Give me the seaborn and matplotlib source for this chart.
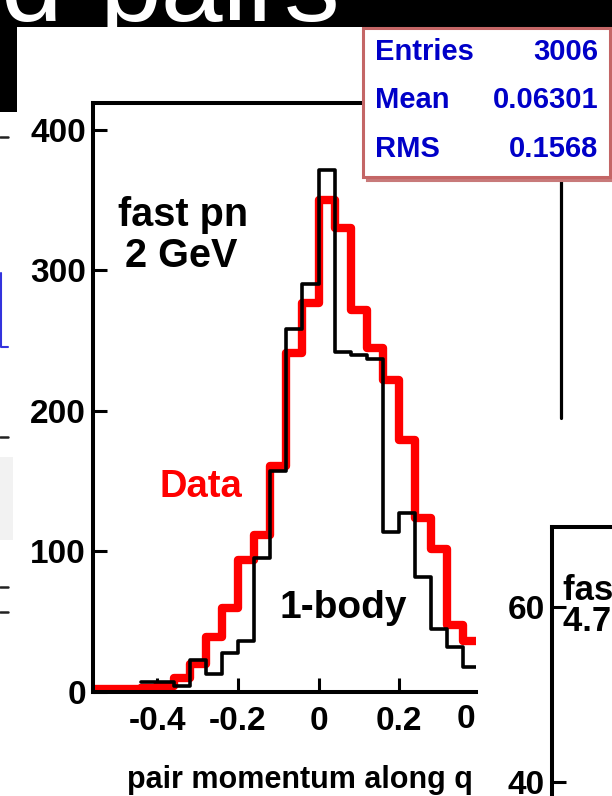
import numpy as np
import pandas as pd
import matplotlib
matplotlib.use("Agg")
import matplotlib.pyplot as plt
import seaborn as sns
from matplotlib.patches import Rectangle
from matplotlib.lines import Line2D
from matplotlib.transforms import Bbox, TransformedBbox, blended_transform_factory

# ---------------- data ----------------
data_edges = [-0.56, -0.52, -0.48, -0.44, -0.40, -0.36, -0.32, -0.28, -0.24, -0.20,
              -0.16, -0.12, -0.08, -0.04, 0.00, 0.04, 0.08, 0.12, 0.16, 0.20,
              0.24, 0.28, 0.32, 0.36, 0.40]
data_counts = [2, 2, 2, 3, 4, 10, 20, 39, 60, 94,
               112, 161, 241, 277, 350, 330, 272, 245, 222, 179,
               124, 102, 48, 36]

body_edges = [-0.44, -0.40, -0.36, -0.32, -0.28, -0.24, -0.20,
              -0.16, -0.12, -0.08, -0.04, 0.00, 0.04, 0.08, 0.12, 0.16, 0.20,
              0.24, 0.28, 0.32, 0.36, 0.40]
body_counts = [7, 7, 4, 23, 13, 28, 36,
               95, 157, 258, 290, 371, 242, 240, 237, 114, 127,
               82, 45, 32, 18]

x_ticks = [-0.4, -0.2, 0.0, 0.2]
x_tick_labels = ["-0.4", "-0.2", "0", "0.2"]
cut_tick = 0.4
cut_tick_label = "0.4"
y_ticks = [0, 100, 200, 300, 400]
y_tick_labels = ["0", "100", "200", "300", "400"]

stats_names = ["Entries", "Mean", "RMS"]
stats_values = ["3006", "0.06301", "0.1568"]

right_ticks = [40, 60]
right_tick_labels = ["40", "60"]

# ---------------- style ----------------
sns.set_style("ticks")
plt.rcParams["font.family"] = ["Liberation Sans", "DejaVu Sans"]
plt.rcParams["font.weight"] = "bold"
plt.rcParams.update({"text.color": "black", "axes.labelcolor": "black",
                     "xtick.color": "black", "ytick.color": "black",
                     "axes.edgecolor": "black"})

W, H = 612, 796
fig = plt.figure(figsize=(W / 100, H / 100), dpi=100)
fig.patch.set_facecolor("white")


def fx(px):
    return px / W


def fy(py):
    return 1 - py / H


# ---------------- main histogram ----------------
ax = fig.add_axes([fx(93), fy(692), fx(476) - fx(93), fy(103) - fy(692)])
ax.set_facecolor("white")

d_edges = np.array(data_edges)
d_centers = (d_edges[:-1] + d_edges[1:]) / 2
b_edges = np.array(body_edges)
b_centers = (b_edges[:-1] + b_edges[1:]) / 2

df_data = pd.DataFrame({"q": d_centers, "n": data_counts})
df_body = pd.DataFrame({"q": b_centers, "n": body_counts})

sns.histplot(data=df_data, x="q", weights="n", bins=list(data_edges), element="step",
             fill=False, color="#ff0000", linewidth=6, ax=ax)
sns.histplot(data=df_body, x="q", weights="n", bins=list(body_edges), element="step",
             fill=False, color="black", linewidth=2.6, ax=ax)

ax.set_xlim(-0.56, (476 - 318) / 404)
ax.set_ylim(0, 419)
ax.set_xticks(x_ticks)
ax.set_xticklabels(x_tick_labels)
ax.set_yticks(y_ticks)
ax.set_yticklabels(y_tick_labels)
ax.set_ylabel("")
ax.tick_params(axis="both", direction="in", length=10, width=2.2,
               labelsize=24, colors="black")
ax.tick_params(axis="x", pad=10)
ax.tick_params(axis="y", pad=5)
for lab in ax.get_xticklabels() + ax.get_yticklabels():
    lab.set_fontweight("bold")
for side in ["left", "bottom", "top"]:
    ax.spines[side].set_linewidth(2.9)
    ax.spines[side].set_color("black")
ax.spines["right"].set_visible(False)

ax.set_xlabel("pair momentum along q", fontsize=22, fontweight="bold",
              va="baseline", ha="center", color="black")
ax.xaxis.set_label_coords((300 - 93) / 383, (692 - 788) / 589)

# cut-off "0.4" tick label (slide crop)
tr = blended_transform_factory(ax.transData, fig.transFigure)
t04 = fig.text(cut_tick, fy(720), cut_tick_label, transform=tr, ha="center",
               va="center", fontsize=24, fontweight="bold", color="black")
t04.set_clip_box(TransformedBbox(Bbox([[0, 0], [fx(476), 1]]), fig.transFigure))
t04.set_clip_on(True)

# annotations
fig.text(fx(183), fy(226), "fast pn", ha="center", va="baseline",
         fontsize=28.5, fontweight="bold", color="black")
fig.text(fx(181), fy(267), "2 GeV", ha="center", va="baseline",
         fontsize=28.5, fontweight="bold", color="black")
fig.text(fx(160), fy(497), "Data", ha="left", va="baseline",
         fontsize=27.5, fontweight="bold", color="#ff0000")
fig.text(fx(280), fy(618), "1-body", ha="left", va="baseline",
         fontsize=28, fontweight="bold", color="black")

# ---------------- stats box ----------------
shadow = Rectangle((fx(367), fy(181)), fx(610) - fx(363), fy(28) - fy(177),
                   transform=fig.transFigure, facecolor="#c87a7a",
                   edgecolor="#c87a7a", linewidth=1.5, zorder=4)
box = Rectangle((fx(363), fy(177)), fx(610) - fx(363), fy(28) - fy(177),
                transform=fig.transFigure, facecolor="white",
                edgecolor="#c46666", linewidth=2.2, zorder=5)
fig.add_artist(shadow)
fig.add_artist(box)
for i, (nm, val) in enumerate(zip(stats_names, stats_values)):
    base = fy(60 + 48.5 * i)
    fig.text(fx(375), base, nm, ha="left", va="baseline", fontsize=21,
             fontweight="bold", color="#0000c8", zorder=6)
    fig.text(fx(598), base, val, ha="right", va="baseline", fontsize=21,
             fontweight="bold", color="#0000c8", zorder=6)

# vertical line below the stats box
fig.add_artist(Line2D([fx(561), fx(561)], [fy(177), fy(418)],
                      transform=fig.transFigure, color="black", linewidth=2.3))

# ---------------- right partial panel ----------------
ax2 = fig.add_axes([fx(552), 0, 0.3, fy(527)])
ax2.set_facecolor("white")
ax2.set_ylim(40 - (796 - 782) / 8.75, 60 + (607 - 527) / 8.75)
ax2.set_xlim(0, 1)
ax2.set_yticks(right_ticks)
ax2.set_yticklabels(right_tick_labels)
ax2.set_xticks([])
ax2.tick_params(axis="y", direction="in", length=10, width=2.2, labelsize=24,
                pad=5, colors="black")
for lab in ax2.get_yticklabels():
    lab.set_fontweight("bold")
for side in ["left", "top"]:
    ax2.spines[side].set_linewidth(2.9)
ax2.spines["right"].set_visible(False)
ax2.spines["bottom"].set_visible(False)
fig.text(fx(563), fy(600), "fast pn", ha="left", va="baseline",
         fontsize=25, fontweight="bold", color="black")
fig.text(fx(563), fy(631), "4.7 GeV", ha="left", va="baseline",
         fontsize=25, fontweight="bold", color="black")

# ---------------- slide remnants ----------------
fig.add_artist(Rectangle((0, fy(27)), 1, fy(0) - fy(27), transform=fig.transFigure,
                         facecolor="black", edgecolor="none", zorder=3))
fig.add_artist(Rectangle((0, fy(112)), fx(17), fy(0) - fy(112),
                         transform=fig.transFigure, facecolor="black",
                         edgecolor="none", zorder=3))
fig.text(fx(62), fy(21), "d", ha="right", va="baseline", fontsize=80,
         color="white", fontweight="normal", zorder=4)
fig.text(fx(100), fy(21), "pairs", ha="left", va="baseline", fontsize=80,
         color="white", fontweight="normal", zorder=4)

fig.add_artist(Rectangle((0, fy(540)), fx(13), fy(457) - fy(540),
                         transform=fig.transFigure, facecolor="#f2f2f2",
                         edgecolor="none"))
for yy in [137, 437, 587, 612]:
    fig.add_artist(Line2D([0, fx(8)], [fy(yy), fy(yy)], transform=fig.transFigure,
                          color="#222222", linewidth=1.8))
fig.add_artist(Line2D([fx(1), fx(1), fx(8)], [fy(273), fy(347), fy(347)],
                      transform=fig.transFigure, color="#3333dd", linewidth=1.5))

fig.savefig("out.png", dpi=100)
